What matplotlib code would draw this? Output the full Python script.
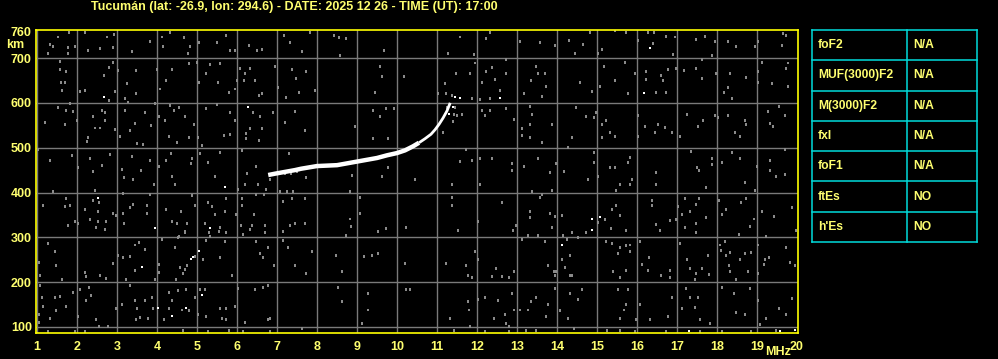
import numpy as np
import matplotlib.pyplot as plt

# Заголовок и подписи
title = 'Tucumán (lat: -26.9, lon: 294.6) - DATE: 2025 12 26 - TIME (UT): 17:00'
x_ticks = list(range(1, 21))
y_ticks = [100, 200, 300, 400, 500, 600, 700, 760]

# Таблица параметров
param_names = ['foF2', 'MUF(3000)F2', 'M(3000)F2', 'fxI', 'foF1', 'ftEs', "h'Es"]
param_values = ['N/A', 'N/A', 'N/A', 'N/A', 'N/A', 'NO', 'NO']

# След F-слоя (частота МГц, высота км)
trace_f = [6.78, 6.95, 7.2, 7.45, 7.6, 7.8, 8.0, 8.25, 8.5, 8.75, 9.0, 9.25, 9.5,
           9.75, 10.0, 10.2, 10.4, 10.55, 10.7, 10.85, 10.95, 11.05, 11.15, 11.25, 11.33]
trace_h = [439, 442, 446, 450, 453, 456, 459, 460, 461, 465, 469, 473, 477,
           483, 488, 494, 503, 511, 520, 530, 540, 552, 566, 582, 600]

# Яркие отдельные точки
bright = [(2.67, 612), (6.28, 590), (16.33, 722), (16.18, 623), (12.58, 610), (11.57, 610),
          (2.53, 387), (5.69, 413), (3.94, 320), (5.33, 320), (3.63, 234), (4.85, 251),
          (4.90, 256), (5.04, 269), (4.03, 142), (4.38, 124), (4.73, 142), (5.13, 172),
          (14.88, 340), (14.88, 316), (15.08, 346), (14.13, 282), (17.30, 92), (19.58, 90),
          (19.94, 94), (11.45, 612), (11.4, 590), (11.3, 575)]

# Шум (серые точки) по четвертям
noise_ul = [(1.53, 748), (1.79, 759), (2.19, 759), (2.75, 748), (2.92, 754), (1.33, 732), (1.39, 727),
            (1.28, 712), (1.78, 724), (1.78, 712), (1.94, 726), (2.28, 717), (2.58, 722), (2.89, 724),
            (3.38, 715), (3.83, 739), (4.13, 748), (4.33, 757), (4.67, 747), (4.15, 727), (4.83, 726),
            (4.78, 712), (5.04, 735), (5.50, 735), (5.73, 752), (5.83, 717), (5.94, 718), (6.29, 729),
            (6.50, 718), (6.63, 720), (7.17, 752), (7.33, 735), (7.63, 715), (7.83, 757), (8.42, 752),
            (8.56, 747), (8.73, 744), (8.58, 707), (9.67, 717),
            (1.58, 694), (1.58, 675), (1.73, 670), (1.61, 647), (1.69, 647), (1.63, 629), (2.08, 627),
            (2.19, 629), (2.67, 662), (2.81, 681), (2.89, 692), (3.03, 673), (2.94, 627), (3.25, 645),
            (3.48, 673), (3.48, 621), (3.19, 610), (2.79, 606), (4.00, 675), (4.38, 675), (4.23, 651),
            (4.08, 632), (4.79, 688), (5.00, 692), (5.06, 647), (5.23, 666), (5.33, 687), (5.53, 647),
            (5.58, 688), (5.79, 625), (5.94, 632), (6.00, 651), (6.08, 677), (6.19, 666), (6.17, 651),
            (6.33, 677), (6.44, 651), (6.54, 618), (6.63, 621), (6.94, 682), (7.03, 636), (7.23, 614),
            (7.38, 675), (7.48, 655), (7.54, 625), (7.73, 670), (7.94, 629), (9.58, 682), (9.63, 659),
            (9.44, 625), (10.18, 660),
            (1.53, 590), (1.73, 585), (1.83, 600), (1.89, 582), (1.19, 558), (1.69, 553), (2.00, 562),
            (2.28, 524), (2.25, 515), (2.39, 571), (2.46, 545), (2.58, 545), (2.63, 584), (2.71, 580),
            (2.69, 562), (2.94, 541), (3.08, 526), (3.19, 585), (3.28, 603), (3.33, 539), (3.44, 554),
            (3.50, 511), (3.64, 508), (3.71, 580), (3.86, 550), (3.96, 599), (4.04, 571), (4.19, 562),
            (4.29, 526), (4.33, 595), (4.42, 584), (4.54, 590), (4.50, 513), (4.69, 571), (4.79, 524),
            (4.92, 553), (5.03, 524), (5.13, 506), (5.23, 588), (5.50, 597), (5.67, 528), (5.83, 580),
            (5.83, 530), (5.94, 562), (6.23, 532), (6.23, 521), (6.33, 543), (6.39, 580), (6.58, 571),
            (6.63, 543), (6.56, 517), (6.89, 580), (7.19, 558), (7.44, 582), (7.69, 539), (8.94, 548),
            (9.39, 584), (9.58, 571), (9.73, 588), (9.92, 588), (9.39, 521), (9.78, 521),
            (1.03, 498), (1.33, 472), (1.88, 483), (2.03, 456), (2.33, 478), (2.39, 448), (2.63, 461),
            (2.83, 485), (3.13, 453), (3.17, 435), (3.38, 481), (3.39, 431), (3.61, 450), (3.83, 472),
            (4.06, 459), (4.36, 488), (4.23, 472), (4.38, 436), (4.88, 476), (4.86, 465), (5.08, 488),
            (5.28, 468), (5.44, 436), (5.58, 491), (6.13, 494), (6.25, 444), (6.48, 459), (6.83, 431),
            (7.29, 488), (7.73, 435), (8.88, 439), (9.63, 436), (9.78, 456), (10.46, 431),
            (7.05, 444), (7.2, 443), (7.35, 444), (7.5, 448)]

noise_ur = [(11.58, 748), (12.23, 744), (12.33, 757), (13.08, 737), (13.58, 735), (13.94, 729),
            (14.30, 741), (14.44, 712), (14.65, 732), (14.82, 757), (15.03, 712), (15.13, 720),
            (15.44, 762), (15.73, 757), (16.03, 741), (16.28, 757), (16.42, 759), (16.40, 733),
            (16.73, 750), (16.94, 748), (16.90, 709), (17.48, 742), (17.69, 750), (17.88, 707),
            (17.94, 737), (18.28, 739), (18.48, 726), (18.94, 726), (19.03, 739), (19.65, 756),
            (19.73, 752), (19.63, 729), (11.28, 712), (11.92, 709),
            (11.94, 690), (11.48, 667), (11.82, 666), (12.23, 670), (12.38, 679), (12.72, 697),
            (12.72, 667), (12.13, 647), (12.44, 653), (12.57, 629), (12.33, 610), (12.08, 608),
            (11.88, 610), (11.19, 644), (11.03, 621), (11.23, 621), (11.38, 618), (13.17, 621),
            (13.35, 651), (13.53, 666), (13.69, 666), (13.73, 638), (13.63, 615), (13.48, 682),
            (14.58, 647), (14.88, 627), (15.08, 638), (15.18, 682), (15.44, 650), (15.69, 692),
            (15.78, 621), (15.94, 666), (16.23, 653), (16.22, 670), (16.48, 625), (16.65, 650),
            (16.72, 625), (16.61, 662), (16.78, 675), (16.98, 677), (17.18, 673), (17.48, 677),
            (17.63, 655), (17.63, 697), (17.98, 666), (18.18, 625), (18.27, 635), (18.33, 666),
            (18.38, 610), (18.73, 657), (19.03, 670), (19.03, 647), (19.38, 645), (19.13, 692),
            (19.73, 677), (19.78, 690), (19.78, 638),
            (11.25, 590), (11.42, 575), (11.63, 575), (12.13, 585), (12.19, 573), (12.33, 584),
            (12.73, 588), (12.93, 565), (13.13, 543), (13.13, 528), (13.33, 593), (13.33, 553),
            (13.38, 575), (13.32, 523), (13.63, 513), (13.88, 553), (14.38, 523), (14.48, 590),
            (14.73, 571), (14.92, 569), (14.97, 580), (15.13, 553), (15.23, 562), (15.13, 523),
            (15.33, 535), (15.44, 526), (16.03, 573), (16.03, 526), (16.19, 548), (16.44, 535),
            (16.53, 553), (16.69, 547), (16.88, 535), (17.07, 526), (17.25, 575), (17.52, 548),
            (17.65, 562), (17.94, 573), (18.03, 568), (18.28, 573), (18.46, 535), (18.58, 526),
            (18.69, 562), (18.73, 553), (19.28, 582), (19.33, 556), (19.40, 548), (19.55, 593),
            (19.69, 573), (11.45, 590), (11.5, 572), (11.4, 560), (11.15, 535),
            (11.73, 496), (11.58, 471), (11.88, 472), (12.08, 478), (12.38, 478), (12.88, 466),
            (12.88, 451), (13.17, 459), (13.53, 478), (13.82, 446), (13.97, 465), (14.17, 448),
            (14.28, 502), (14.78, 431), (14.93, 491), (14.93, 468), (15.03, 436), (15.33, 456),
            (15.44, 456), (15.78, 468), (15.83, 480), (15.88, 431), (16.47, 446), (17.36, 493),
            (17.50, 456), (17.56, 450), (17.88, 476), (17.88, 463), (18.13, 468), (18.38, 491),
            (18.58, 478), (19.00, 459), (19.33, 472), (19.33, 450), (19.48, 436), (19.69, 441),
            (19.69, 498)]

noise_ll = [(1.39, 403), (2.44, 405), (3.92, 418), (4.44, 420), (6.03, 408), (6.19, 418), (6.53, 420),
            (6.73, 408), (7.08, 403), (7.25, 403), (7.39, 403), (8.83, 403), (1.14, 373), (1.69, 370),
            (1.83, 373), (1.73, 387), (2.39, 383), (2.56, 378), (2.53, 358), (2.53, 336), (2.19, 363),
            (2.33, 340), (2.03, 333), (1.94, 336), (1.78, 328), (2.48, 323), (2.69, 318), (2.73, 336),
            (2.89, 355), (2.98, 349), (3.17, 331), (3.14, 355), (3.33, 368), (3.39, 375), (3.14, 398),
            (3.83, 396), (3.75, 373), (3.75, 355), (4.23, 363), (4.38, 336), (4.61, 358), (4.50, 331),
            (4.75, 331), (4.69, 312), (4.88, 394), (4.94, 373), (4.56, 303), (5.28, 378), (5.38, 370),
            (5.44, 351), (5.19, 333), (5.29, 312), (5.54, 314), (5.58, 323), (5.73, 311), (5.69, 358),
            (5.73, 387), (5.98, 353), (6.13, 373), (6.13, 387), (6.11, 328), (6.14, 308), (6.33, 318),
            (6.38, 328), (6.42, 353), (6.48, 396), (6.68, 396), (6.71, 328), (6.71, 311), (7.14, 381),
            (7.38, 387), (7.33, 328), (7.44, 333), (7.69, 388), (7.69, 333), (7.14, 314), (8.83, 342),
            (8.85, 326), (8.73, 306), (9.08, 390), (9.08, 355), (9.53, 314), (9.73, 320), (10.23, 323),
            (1.28, 288), (1.44, 269), (1.04, 246), (1.08, 217), (1.48, 239), (1.63, 206), (2.19, 223),
            (2.23, 214), (2.58, 215), (2.73, 209), (2.89, 243), (3.03, 261), (3.14, 256), (3.23, 208),
            (3.33, 258), (3.44, 284), (3.56, 290), (3.46, 228), (3.71, 275), (3.94, 208), (4.06, 241),
            (4.06, 223), (4.13, 296), (4.44, 278), (4.53, 301), (4.58, 234), (4.64, 221), (4.48, 208),
            (4.71, 314), (5.14, 252), (5.23, 293), (5.33, 303), (5.58, 256), (5.69, 291), (5.88, 215),
            (6.48, 291), (6.58, 266), (6.64, 256), (6.77, 278), (6.93, 239), (7.14, 293), (7.28, 278),
            (7.44, 239), (7.73, 221), (7.88, 269), (8.48, 261), (8.63, 224), (9.17, 258), (9.38, 261),
            (9.53, 266), (10.19, 243), (4.7, 230), (4.75, 238), (4.95, 258),
            (1.08, 194), (1.13, 167), (1.14, 146), (1.04, 129), (1.06, 111), (1.33, 120), (1.44, 167),
            (1.48, 137), (1.58, 170), (1.73, 146), (1.89, 178), (2.03, 124), (2.08, 184), (2.23, 161),
            (2.29, 189), (2.36, 172), (2.48, 117), (2.56, 102), (2.78, 102), (2.98, 142), (3.13, 152),
            (3.33, 194), (3.44, 161), (3.50, 142), (3.48, 117), (3.58, 122), (3.69, 161), (3.78, 120),
            (3.88, 167), (3.89, 142), (4.17, 117), (4.29, 178), (4.29, 142), (4.38, 161), (4.53, 182),
            (4.63, 139), (4.73, 185), (4.81, 137), (4.94, 167), (5.03, 129), (5.08, 185), (5.19, 185),
            (5.23, 124), (5.58, 142), (5.63, 120), (5.73, 142), (5.73, 117), (5.94, 146), (6.03, 187),
            (6.19, 111), (6.44, 184), (6.64, 189), (6.77, 194), (6.77, 117), (6.83, 120), (8.63, 159),
            (8.53, 189), (9.28, 176), (9.28, 139), (9.13, 109), (10.23, 184), (10.33, 185),
            (1.28, 92), (1.94, 90), (2.19, 90), (4.64, 94), (5.28, 92), (5.79, 94), (6.14, 90),
            (6.83, 92), (7.63, 97)]

noise_lr = [(11.38, 420), (12.08, 418), (13.38, 403), (13.88, 405), (15.48, 405), (15.58, 418),
            (15.83, 418), (16.48, 420), (17.73, 413), (18.69, 423), (18.94, 405), (11.38, 390),
            (11.38, 373), (12.63, 378), (13.58, 390), (13.63, 396), (13.33, 358), (13.33, 346),
            (13.83, 355), (13.94, 348), (13.88, 323), (14.13, 349), (15.03, 334), (15.19, 340),
            (15.36, 320), (15.38, 363), (15.48, 373), (15.58, 349), (15.73, 316), (14.73, 312),
            (14.38, 311), (14.52, 301), (14.15, 305), (16.38, 383), (16.38, 373), (16.47, 329),
            (16.58, 316), (16.83, 338), (16.97, 340), (17.03, 370), (17.13, 353), (17.19, 387),
            (17.19, 323), (17.33, 358), (17.48, 375), (17.55, 387), (17.48, 331), (17.48, 311),
            (17.73, 346), (18.05, 383), (18.13, 351), (18.23, 364), (18.55, 308), (18.61, 378),
            (18.73, 388), (18.83, 326), (18.92, 342), (19.13, 358), (19.22, 303), (19.42, 348),
            (19.88, 368), (19.97, 316), (11.53, 316), (12.03, 336), (12.97, 327), (12.90, 316),
            (13.28, 306), (13.53, 306),
            (11.23, 243), (11.73, 239), (11.78, 217), (11.88, 211), (11.94, 269), (12.03, 252),
            (12.48, 232), (12.38, 214), (12.63, 214), (12.80, 211), (12.92, 224), (13.13, 296),
            (13.69, 291), (13.78, 239), (13.92, 224), (13.94, 217), (13.98, 224), (14.13, 252),
            (14.19, 234), (14.25, 296), (14.32, 260), (14.33, 217), (14.38, 217), (15.23, 291),
            (15.38, 288), (15.40, 224), (15.53, 264), (15.58, 278), (15.73, 228), (15.72, 282),
            (15.82, 269), (15.83, 284), (15.57, 211), (16.08, 291), (16.13, 241), (16.28, 228),
            (16.30, 256), (16.61, 215), (16.83, 228), (16.83, 211), (17.08, 288), (17.25, 251),
            (17.33, 232), (17.48, 221), (17.45, 206), (17.63, 232), (17.77, 261), (17.80, 219),
            (18.08, 284), (18.10, 271), (18.23, 261), (18.33, 267), (18.19, 291), (18.30, 239),
            (18.33, 224), (18.47, 208), (18.58, 251), (18.69, 266), (18.78, 224), (18.86, 267),
            (19.03, 284), (19.03, 221), (19.17, 241), (19.19, 251), (19.30, 256), (19.73, 278),
            (19.82, 246), (19.94, 238),
            (11.33, 120), (11.78, 157), (11.80, 139), (11.83, 102), (12.03, 163), (12.19, 167),
            (12.42, 120), (12.53, 161), (12.69, 129), (12.73, 109), (12.80, 102), (12.88, 176),
            (12.93, 139), (13.08, 139), (13.28, 139), (13.36, 157), (13.48, 167), (13.72, 124),
            (13.78, 152), (13.94, 187), (14.08, 137), (14.28, 120), (14.33, 176), (14.52, 163),
            (14.63, 185), (14.42, 97), (15.53, 185), (15.58, 120), (15.67, 139), (15.73, 152),
            (15.77, 184), (15.97, 117), (16.08, 152), (16.32, 117), (16.78, 124), (16.88, 167),
            (17.13, 142), (17.23, 187), (17.33, 167), (17.45, 144), (17.53, 167), (17.58, 117),
            (17.83, 109), (18.13, 189), (18.42, 176), (18.47, 134), (18.69, 129), (18.83, 187),
            (19.03, 161), (19.08, 107), (19.23, 120), (19.55, 142), (19.72, 129), (19.88, 165),
            (11.42, 94), (12.19, 92), (12.80, 92), (13.23, 94), (13.47, 94), (15.25, 94), (15.58, 94),
            (15.94, 92), (16.72, 92), (17.57, 92), (18.13, 92), (18.86, 92), (19.47, 94)]

# Цвета
yellow_txt = '#ffff70'
yellow_frame = '#ffff00'
grid_col = '#7a7a7a'
cyan = '#00dcdc'
font = 'Liberation Sans'

fig = plt.figure(figsize=(9.98, 3.59), dpi=100, facecolor='black')
ax = fig.add_axes([36 / 998, 26 / 359, 762 / 998, 303 / 359], facecolor='black')

# Сетка
for f in x_ticks[:-1]:
    ax.axvline(f, color=grid_col, lw=1.0, zorder=1)
for h in y_ticks[:-1]:
    ax.axhline(h, color=grid_col, lw=1.0, zorder=1)

# Шум
all_noise = noise_ul + noise_ur + noise_ll + noise_lr
nf = [p[0] for p in all_noise]
nh = [p[1] for p in all_noise]
ax.plot(nf, nh, 's', color='#8a8a8a', ms=1.5, mew=0, zorder=2)
ax.plot(nf, np.array(nh) - 2.2, 's', color='#8a8a8a', ms=1.5, mew=0, zorder=2)

bf = [p[0] for p in bright]
bh = [p[1] for p in bright]
ax.plot(bf, bh, 's', color='white', ms=1.6, mew=0, zorder=3)

# След
ax.plot(trace_f[:18], trace_h[:18], color='white', lw=3.2, solid_capstyle='butt', zorder=4)
ax.plot(trace_f[17:], trace_h[17:], color='white', lw=2.0, solid_capstyle='butt', zorder=4)

ax.set_xlim(0.975, 20.025)
ax.set_ylim(86.6, 762.5)
ax.set_xticks(x_ticks)
ax.set_yticks(y_ticks)
ax.tick_params(length=0, colors=yellow_txt, labelsize=9, pad=6)
ax.tick_params(axis='y', pad=3)
for lab in ax.get_xticklabels() + ax.get_yticklabels():
    lab.set_fontfamily(font)
    lab.set_fontweight('bold')
for sp in ax.spines.values():
    sp.set_color(yellow_frame)
    sp.set_linewidth(1.2)

fig.text(294 / 998, 1 - 7 / 359, title, color=yellow_txt, fontsize=9, fontweight='bold',
         family=font, ha='center', va='center')
fig.text(6 / 998, 1 - 45 / 359, 'km', color=yellow_txt, fontsize=9, fontweight='bold',
         family=font, ha='left', va='center')
fig.text(791 / 998, 1 - 352 / 359, 'MHz', color=yellow_txt, fontsize=9, fontweight='bold',
         family=font, ha='right', va='center')

# Таблица
axt = fig.add_axes([812 / 998, 1 - 242 / 359, 165 / 998, 212 / 359], facecolor='black')
axt.set_xlim(0, 165)
axt.set_ylim(len(param_names), 0)
axt.axis('off')
for i in range(len(param_names) + 1):
    axt.plot([0, 165], [i, i], color=cyan, lw=1.1, clip_on=False)
axt.plot([0, 0], [0, len(param_names)], color=cyan, lw=1.1, clip_on=False)
axt.plot([95, 95], [0, len(param_names)], color=cyan, lw=1.1, clip_on=False)
axt.plot([165, 165], [0, len(param_names)], color=cyan, lw=1.1, clip_on=False)
for i, (name, val) in enumerate(zip(param_names, param_values)):
    axt.text(6, i + 0.5, name, color=yellow_txt, fontsize=8.7, fontweight='bold',
             family=font, ha='left', va='center')
    axt.text(101, i + 0.5, val, color=yellow_txt, fontsize=8.7, fontweight='bold',
             family=font, ha='left', va='center')

fig.savefig('out.png', dpi=100, facecolor='black')
